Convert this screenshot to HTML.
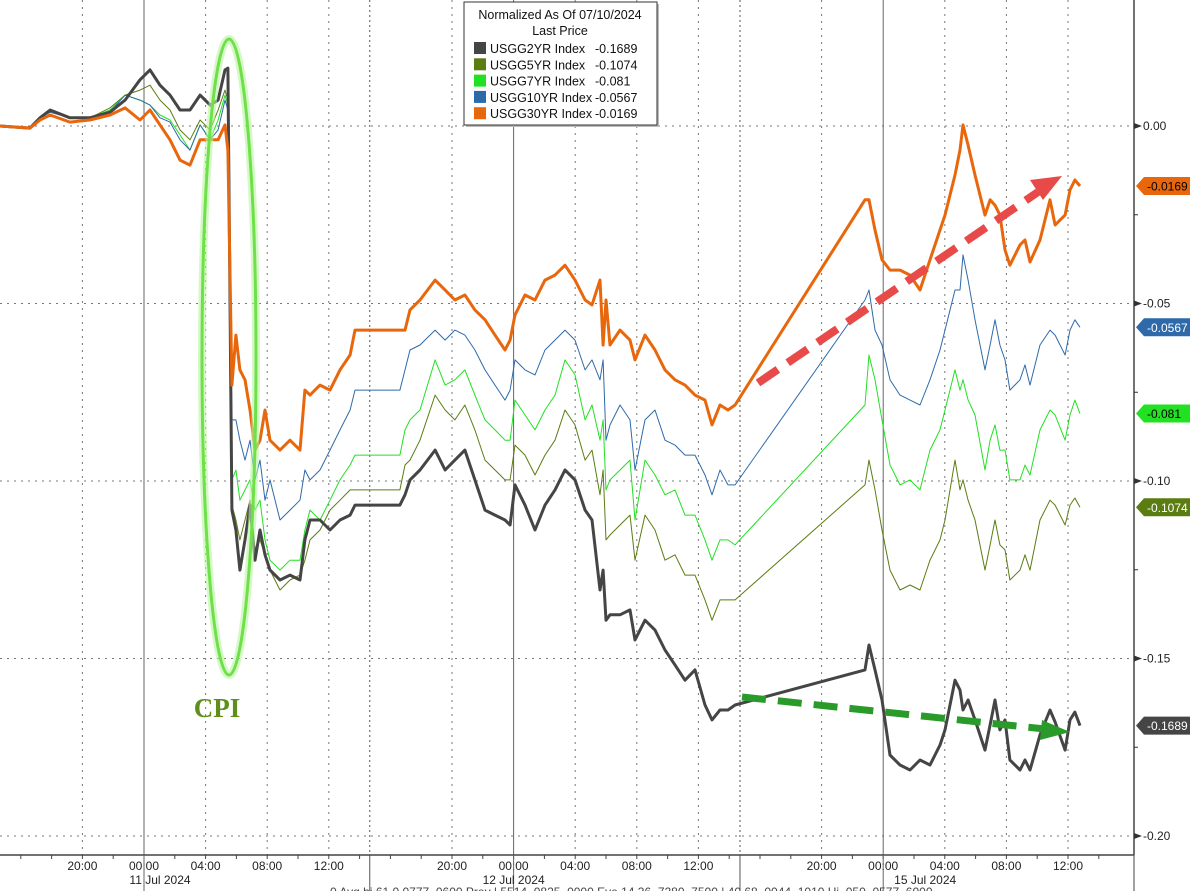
<!DOCTYPE html>
<html><head><meta charset="utf-8"><style>
body{margin:0;background:#fff;}
svg{display:block;font-family:"Liberation Sans","DejaVu Sans",sans-serif;}
</style></head><body>
<svg id="chart" width="1190" height="891" viewBox="0 0 1190 891">
<g id="grid"></g>
<g id="series"></g>
<g id="axis"></g>
<g id="anno">
  <ellipse cx="229" cy="357" rx="27" ry="318" fill="none" stroke="#b9f5a0" stroke-width="8" opacity="0.6"/>
  <ellipse cx="229" cy="357" rx="27" ry="318" fill="none" stroke="#6fe04a" stroke-width="3"/>
  <text x="217" y="717" text-anchor="middle" font-family="Liberation Serif,serif" font-weight="bold" font-size="27" fill="#5f8f1a">CPI</text>
  <line x1="758" y1="383" x2="1038" y2="192" stroke="#e84a4a" stroke-width="8" stroke-dasharray="24 12"/>
  <polygon points="1062,176 1030,180 1043,200" fill="#e84a4a"/>
  <line x1="742" y1="697" x2="1045" y2="729" stroke="#2a9a2a" stroke-width="7" stroke-dasharray="24 12"/>
  <polygon points="1070,732 1042,720 1040,740" fill="#2a9a2a"/>
</g>
<g>
  <rect x="466" y="4" width="193" height="123" fill="#bbb"/>
  <rect x="464" y="2" width="193" height="123" fill="#fff" stroke="#333" stroke-width="1"/>
  <text x="560" y="19" text-anchor="middle" font-size="12.5" fill="#111">Normalized As Of 07/10/2024</text>
  <text x="560" y="35" text-anchor="middle" font-size="12.5" fill="#111">Last Price</text>
  <g id="legendRows"></g>
</g>
<text x="330" y="896" font-size="12" fill="#444">0  Avg  hi  61 0.0777 .0600  Prev  |  5514 .0825 .0000  Eve  14.36 .7280 .7500  |  40.68 .0044 .1010  Hi  .050 .0577 .6000</text>
</svg>
<script>
const seriesNames=["USGG2YR Index","USGG5YR Index","USGG7YR Index","USGG10YR Index","USGG30YR Index"];
const lastPrices=["-0.1689","-0.1074","-0.081","-0.0567","-0.0169"];
const yTicks=[0,-0.05,-0.10,-0.15,-0.20];
const yTickLabels=["0.00","-0.05","-0.10","-0.15","-0.20"];
const xTickHours=[-4,0,4,8,12,20,24,28,32,36,44,48,52,56,60];
const xTickLabels=["20:00","00:00","04:00","08:00","12:00","20:00","00:00","04:00","08:00","12:00","20:00","00:00","04:00","08:00","12:00"];
const dayStarts=[0,24,48];
const dayLabels=["11 Jul 2024","12 Jul 2024","15 Jul 2024"];
const sessionBreaks=[14.66,38.7];
const times=[-9.35,-7.40,-6.75,-6.10,-4.81,-3.51,-2.21,-1.23,-0.26,0.39,
1.04,1.69,2.34,2.99,3.64,4.29,4.81,5.26,5.45,5.71,
5.97,6.23,6.56,6.88,7.21,7.53,7.86,8.18,8.83,9.48,
10.13,10.45,10.78,11.43,12.08,12.73,13.38,13.70,16.62,16.95,
17.27,17.92,18.90,19.55,20.19,20.84,21.49,22.14,22.79,23.44,
23.77,24.09,24.74,25.39,26.04,26.69,27.34,27.99,28.64,29.09,
29.61,29.81,30.0,30.26,30.91,31.56,31.88,32.53,33.18,33.83,
34.48,35.13,35.78,36.43,36.88,37.40,37.92,38.38,46.82,47.08,
47.47,47.92,48.44,49.09,49.74,50.39,51.04,51.69,52.01,52.66,
52.99,53.18,53.51,53.96,54.61,54.94,55.26,55.58,55.91,56.23,
56.88,57.21,57.53,58.18,58.83,59.16,59.81,60.13,60.45,60.78];
const y2=[0,-0.0006,0.0023,0.0045,0.0023,0.0023,0.0039,0.0073,0.0130,0.0158,
0.0115,0.0087,0.0045,0.0045,0.0087,0.0059,0.0073,0.0158,0.0163,-0.1082,
-0.1138,-0.1251,-0.1166,-0.1068,-0.1223,-0.1138,-0.1208,-0.1251,-0.1279,-0.1265,
-0.1279,-0.1166,-0.1110,-0.1110,-0.1138,-0.1110,-0.1096,-0.1068,-0.1068,-0.1039,
-0.0997,-0.0969,-0.0913,-0.0969,-0.0941,-0.0913,-0.0997,-0.1082,-0.1096,-0.1110,
-0.1124,-0.1011,-0.1068,-0.1138,-0.1068,-0.1025,-0.0969,-0.0997,-0.1082,-0.1110,
-0.1307,-0.1251,-0.1392,-0.1377,-0.1377,-0.1363,-0.1448,-0.1392,-0.1420,-0.1476,
-0.1518,-0.1561,-0.1532,-0.1631,-0.1673,-0.1645,-0.1645,-0.1631,-0.1532,-0.1462,
-0.1532,-0.1617,-0.1772,-0.1800,-0.1814,-0.1786,-0.1800,-0.1744,-0.1701,-0.1561,
-0.1589,-0.1645,-0.1617,-0.1673,-0.1758,-0.1687,-0.1617,-0.1701,-0.1673,-0.1786,
-0.1814,-0.1786,-0.1814,-0.1715,-0.1645,-0.1679,-0.1758,-0.1673,-0.1651,-0.1689];
const y5=[0,-0.0006,0.0023,0.0039,0.0023,0.0023,0.0051,0.0087,0.0101,0.0115,
0.0073,0.0045,-0.0011,-0.0039,0.0017,-0.0011,0.0045,0.0101,0.0073,-0.1068,
-0.1110,-0.1166,-0.1110,-0.1054,-0.1194,-0.1166,-0.1208,-0.1251,-0.1307,-0.1279,
-0.1265,-0.1223,-0.1166,-0.1138,-0.1082,-0.1054,-0.1025,-0.1025,-0.1025,-0.0955,
-0.0941,-0.0885,-0.0758,-0.0800,-0.0828,-0.0786,-0.0856,-0.0941,-0.0969,-0.0997,
-0.0997,-0.0899,-0.0927,-0.0983,-0.0927,-0.0885,-0.0800,-0.0842,-0.0941,-0.0913,
-0.1039,-0.0969,-0.1166,-0.1152,-0.1124,-0.1096,-0.1223,-0.1096,-0.1138,-0.1223,
-0.1208,-0.1265,-0.1265,-0.1335,-0.1392,-0.1335,-0.1335,-0.1335,-0.1011,-0.0941,
-0.1025,-0.1138,-0.1251,-0.1307,-0.1293,-0.1307,-0.1223,-0.1166,-0.1110,-0.0941,
-0.1025,-0.0997,-0.1054,-0.1110,-0.1251,-0.1180,-0.1110,-0.1180,-0.1194,-0.1279,
-0.1251,-0.1208,-0.1251,-0.1110,-0.1054,-0.1068,-0.1124,-0.1068,-0.1048,-0.1074];
const y7=[0,-0.0006,0.0023,0.0045,0.0023,0.0023,0.0045,0.0087,0.0073,0.0059,
0.0031,0.0017,-0.0025,-0.0068,0.0003,-0.0039,0.0017,0.0087,0.0059,-0.0997,
-0.0969,-0.1054,-0.1025,-0.0997,-0.1082,-0.1054,-0.1166,-0.1223,-0.1251,-0.1223,
-0.1223,-0.1138,-0.1082,-0.1110,-0.1054,-0.0997,-0.0955,-0.0927,-0.0927,-0.0856,
-0.0828,-0.0800,-0.0659,-0.0730,-0.0715,-0.0687,-0.0758,-0.0828,-0.0856,-0.0885,
-0.0885,-0.0772,-0.0814,-0.0856,-0.0800,-0.0758,-0.0659,-0.0701,-0.0828,-0.0786,
-0.0885,-0.0828,-0.1025,-0.0997,-0.0969,-0.0941,-0.1110,-0.0941,-0.0983,-0.1039,
-0.1025,-0.1096,-0.1096,-0.1166,-0.1223,-0.1166,-0.1166,-0.1180,-0.0786,-0.0645,
-0.0715,-0.0828,-0.0955,-0.1011,-0.0997,-0.1025,-0.0913,-0.0856,-0.0800,-0.0687,
-0.0744,-0.0715,-0.0772,-0.0814,-0.0969,-0.0885,-0.0842,-0.0913,-0.0913,-0.0997,
-0.0997,-0.0955,-0.0983,-0.0856,-0.0800,-0.0814,-0.0885,-0.0814,-0.0772,-0.0810];
const y10=[0,-0.0006,0.0023,0.0039,0.0023,0.0023,0.0039,0.0087,0.0073,0.0059,
0.0023,0.0011,-0.0039,-0.0068,0.0003,-0.0039,-0.0011,0.0073,0.0045,-0.0828,
-0.0828,-0.0885,-0.0941,-0.0885,-0.0997,-0.0941,-0.1054,-0.0997,-0.1110,-0.1082,
-0.1054,-0.0969,-0.0997,-0.0969,-0.0913,-0.0856,-0.0800,-0.0744,-0.0744,-0.0687,
-0.0631,-0.0617,-0.0575,-0.0603,-0.0575,-0.0589,-0.0631,-0.0687,-0.0730,-0.0772,
-0.0744,-0.0659,-0.0687,-0.0701,-0.0631,-0.0603,-0.0575,-0.0603,-0.0687,-0.0659,
-0.0715,-0.0659,-0.0885,-0.0842,-0.0786,-0.0828,-0.0969,-0.0828,-0.0800,-0.0885,
-0.0899,-0.0927,-0.0927,-0.0983,-0.1039,-0.0969,-0.1011,-0.1011,-0.0490,-0.0462,
-0.0575,-0.0617,-0.0715,-0.0758,-0.0772,-0.0786,-0.0715,-0.0631,-0.0575,-0.0462,
-0.0462,-0.0363,-0.0434,-0.0546,-0.0687,-0.0617,-0.0546,-0.0617,-0.0659,-0.0744,
-0.0715,-0.0673,-0.0730,-0.0617,-0.0575,-0.0589,-0.0645,-0.0575,-0.0546,-0.0567];
const y30=[0,-0.0006,0.0017,0.0031,0.0011,0.0017,0.0031,0.0051,0.0017,0.0045,
0.0003,-0.0039,-0.0096,-0.0110,-0.0039,-0.0039,-0.0039,0.0003,-0.0068,-0.0730,
-0.0589,-0.0687,-0.0715,-0.0800,-0.0913,-0.0885,-0.0800,-0.0885,-0.0913,-0.0885,
-0.0913,-0.0744,-0.0758,-0.0730,-0.0744,-0.0687,-0.0645,-0.0575,-0.0575,-0.0575,
-0.0518,-0.0490,-0.0434,-0.0462,-0.0490,-0.0476,-0.0518,-0.0546,-0.0589,-0.0631,
-0.0603,-0.0532,-0.0476,-0.0490,-0.0434,-0.0420,-0.0392,-0.0434,-0.0490,-0.0504,
-0.0434,-0.0617,-0.0490,-0.0617,-0.0575,-0.0603,-0.0659,-0.0589,-0.0631,-0.0687,
-0.0715,-0.0730,-0.0758,-0.0772,-0.0842,-0.0786,-0.0800,-0.0786,-0.0208,-0.0208,
-0.0293,-0.0377,-0.0406,-0.0406,-0.0420,-0.0462,-0.0377,-0.0293,-0.0251,-0.0138,
-0.0068,0.0003,-0.0054,-0.0138,-0.0251,-0.0208,-0.0223,-0.0251,-0.0349,-0.0392,
-0.0335,-0.0321,-0.0383,-0.0321,-0.0208,-0.0279,-0.0251,-0.0180,-0.0152,-0.0169];

const NS="http://www.w3.org/2000/svg";
const X0=144, PXH=15.4, Y0=126, PXV=3550, AXR=1134, AXB=855;
function xs(h){return X0+h*PXH;}
function ys(v){return Y0-v*PXV;}
function mk(tag,attrs,parent){const e=document.createElementNS(NS,tag);for(const k in attrs)e.setAttribute(k,attrs[k]);parent.appendChild(e);return e;}
const grid=document.getElementById('grid'), ser=document.getElementById('series'), ax=document.getElementById('axis');

yTicks.forEach((v,i)=>{
  const l=mk('line',{x1:0,x2:AXR,y1:ys(v),y2:ys(v),stroke:'#777','stroke-width':1,'stroke-dasharray':'2 5'},grid);
  
  
});
xTickHours.forEach((h,i)=>{
  if(dayStarts.includes(h))return;
  const l=mk('line',{x1:xs(h),x2:xs(h),y1:0,y2:AXB,stroke:'#777','stroke-width':1,'stroke-dasharray':'2 5'},grid);
  
  
});
dayStarts.forEach(h=>{
  const l=mk('line',{x1:xs(h),x2:xs(h),y1:0,y2:AXB,stroke:'#666','stroke-width':1},grid);
  
  
});
sessionBreaks.forEach(h=>{
  const l=mk('line',{x1:xs(h),x2:xs(h),y1:0,y2:AXB,stroke:'#555','stroke-width':1,'stroke-dasharray':'2 3'},grid);
  
  
  const b=mk('line',{x1:xs(h),x2:xs(h),y1:AXB,y2:891,stroke:'#555','stroke-width':1},ax);
  
  
});

const seriesVals=[y2,y5,y7,y10,y30];
const colors=['#454545','#5a7d12','#22e022','#2e6aaa','#e8670c'];
const widths=[3,1,1,1,3];
const drawOrder=[1,2,3,0,4];
drawOrder.forEach(si=>{
  const d=times.map((t,i)=>(i?'L':'M')+xs(t).toFixed(1)+','+ys(seriesVals[si][i]).toFixed(1)).join('');
  const p=mk('path',{d:d,fill:'none',stroke:colors[si],'stroke-width':widths[si],'stroke-linejoin':'round'},ser);
  
  
});

const ra=mk('line',{x1:AXR,x2:AXR,y1:0,y2:AXB,stroke:'#444','stroke-width':1.5},ax);


const ba=mk('line',{x1:0,x2:AXR,y1:AXB,y2:AXB,stroke:'#444','stroke-width':1.5},ax);


const ba2=mk('line',{x1:AXR,x2:AXR,y1:AXB,y2:891,stroke:'#444','stroke-width':1},ax);


yTicks.forEach((v,i)=>{
  const m=mk('polygon',{points:`${AXR},${ys(v)-3} ${AXR+8},${ys(v)} ${AXR},${ys(v)+3}`,fill:'#333'},ax);
  
  
  const t=mk('text',{x:AXR+9,y:ys(v)+4,'font-size':12,fill:'#222'},ax);
  t.textContent=yTickLabels[i];
  
  
  if(i<yTicks.length-1){
    const mn=mk('line',{x1:AXR,x2:AXR+4,y1:ys(v-0.025),y2:ys(v-0.025),stroke:'#333'},ax);
    
    
  }
});
for(let h=-8;h<=62;h+=2){
  const tk=mk('line',{x1:xs(h),x2:xs(h),y1:AXB,y2:AXB+4,stroke:'#444'},ax);
  
  
}
xTickHours.forEach((h,i)=>{
  const t=mk('text',{x:xs(h),y:AXB+15,'font-size':12,fill:'#222','text-anchor':'middle'},ax);
  t.textContent=xTickLabels[i];
  
  
});
const dayLabelOffsets=[16,0,42];
dayStarts.forEach((h,i)=>{
  const l=mk('line',{x1:xs(h),x2:xs(h),y1:AXB,y2:891,stroke:'#666'},ax);
  
  
  const t=mk('text',{x:xs(h)+dayLabelOffsets[i],y:AXB+29,'font-size':12,fill:'#222','text-anchor':'middle'},ax);
  t.textContent=dayLabels[i];
  
  
});

const tagText=['#fff','#fff','#000','#fff','#000'];
seriesVals.forEach((arr,si)=>{
  const v=arr[arr.length-1], y=ys(v);
  const g=mk('g',{},ax);
  
  
  mk('polygon',{points:`${AXR+2},${y} ${AXR+10},${y-9} 1190,${y-9} 1190,${y+9} ${AXR+10},${y+9}`,fill:colors[si]},g);
  const t=mk('text',{x:AXR+13,y:y+4.5,'font-size':12,fill:tagText[si]},g);
  t.textContent=lastPrices[si];
});

const lr=document.getElementById('legendRows');
seriesNames.forEach((n,i)=>{
  const y=42+i*16.3;
  const g=mk('g',{},lr);
  
  
  mk('rect',{x:474,y:y,width:12,height:12,fill:colors[i]},g);
  const t=mk('text',{x:490,y:y+11,'font-size':12.5,fill:'#111'},g);
  t.textContent=n;
  const t2=mk('text',{x:595,y:y+11,'font-size':12.5,fill:'#111'},g);
  t2.textContent=lastPrices[i];
});
</script>
</body></html>
